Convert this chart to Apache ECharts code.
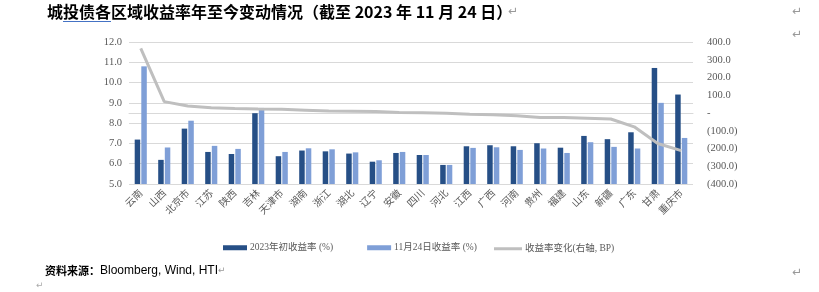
<!DOCTYPE html>
<html>
<head>
<meta charset="utf-8">
<script src="https://cdn.jsdelivr.net/npm/echarts@6/dist/echarts.min.js"></script>
<style>
html,body{margin:0;padding:0;background:#fff;}
#c{width:819px;height:292px;}
</style>
</head>
<body>
<div id="c"></div>
<script>
const categories = ['云南','山西','北京市','江苏','陕西','吉林','天津市','湖南','浙江','湖北','辽宁','安徽','四川','河北','江西','广西','河南','贵州','福建','山东','新疆','广东','甘肃','重庆市'];
const startYield = [7.19,6.19,7.73,6.58,6.48,8.49,6.37,6.65,6.61,6.50,6.10,6.53,6.43,5.94,6.86,6.91,6.86,7.01,6.79,7.37,7.21,7.55,10.72,9.41];
const nov24Yield = [10.80,6.80,8.12,6.88,6.73,8.75,6.58,6.76,6.71,6.56,6.17,6.58,6.43,5.94,6.78,6.81,6.68,6.75,6.53,7.06,6.83,6.75,9.00,7.27];
const changeBP = [364,64,40,30,25,22,21,16,11,10,9,3,1,-2,-7,-10,-16,-25,-26,-30,-34,-78,-172,-212];
const leftTicks = {min:5, max:12, interval:1};
const rightTicks = {min:-400, max:400, interval:100};
const seriesNames = ['2023年初收益率 (%)','11月24日收益率 (%)','收益率变化(右轴, BP)'];

const chart = echarts.init(document.getElementById('c'));
const serif = '"Liberation Serif","Noto Sans CJK SC",serif';
const gridColor = '#d9d9d9';
const txt = '#595959';
chart.setOption({
  animation:false,
  grid:{left:129, right:126, top:42, height:142},
  legend:[
    {left:218, top:238, itemGap:34, itemWidth:24, itemHeight:5, selectedMode:false,
     textStyle:{fontSize:9.5, color:txt, fontFamily:serif, padding:[0,0,0,-2]},
     data:[{name:seriesNames[0], icon:'rect'},{name:seriesNames[1], icon:'rect'}]},
    {left:489, top:239, itemWidth:28, itemHeight:3, selectedMode:false,
     textStyle:{fontSize:9.5, color:txt, fontFamily:serif, padding:[0,0,0,-2]},
     data:[{name:seriesNames[2], icon:'rect'}]}
  ],
  xAxis:{
    type:'category', data:categories, boundaryGap:true,
    axisLine:{lineStyle:{color:gridColor}}, axisTick:{show:false},
    axisLabel:{rotate:45, fontSize:10, color:txt, margin:7, interval:0, fontFamily:'"Noto Sans CJK SC",sans-serif'}
  },
  yAxis:[
    {type:'value', min:leftTicks.min, max:leftTicks.max, interval:leftTicks.interval,
     splitLine:{lineStyle:{color:gridColor}}, axisLine:{show:false}, axisTick:{show:false},
     axisLabel:{fontSize:10.5, color:txt, margin:7, fontFamily:serif, formatter:v=>v.toFixed(1)}},
    {type:'value', min:rightTicks.min, max:rightTicks.max, interval:rightTicks.interval,
     splitLine:{show:false}, axisLine:{show:false}, axisTick:{show:false},
     axisLabel:{fontSize:10.5, color:txt, margin:14, fontFamily:serif, align:'left',
       formatter:v=> v===0 ? '-' : (v<0 ? '('+Math.abs(v).toFixed(1)+')' : v.toFixed(1))}}
  ],
  series:[
    {name:seriesNames[0], type:'bar', data:startYield, barWidth:5.5, barGap:'20%', itemStyle:{color:'#264f86'}},
    {name:seriesNames[1], type:'bar', data:nov24Yield, barWidth:5.5, itemStyle:{color:'#7f9fd7'}},
    {name:seriesNames[2], type:'line', yAxisIndex:1, data:changeBP, symbol:'none', showSymbol:false,
     lineStyle:{color:'#bfbfbf', width:3}, itemStyle:{color:'#bfbfbf'}}
  ],
  graphic:[
    {type:'text', left:47, top:4, style:{text:'城投债各区域收益率年至今变动情况（截至 2023 年 11 月 24 日）', fontSize:16, fontWeight:'bold', fill:'#000', fontFamily:'"Noto Sans CJK SC",sans-serif'}},
    {type:'line', shape:{x1:63,y1:21.5,x2:111,y2:21.5}, style:{stroke:'#4472c4', lineWidth:1}},
    {type:'text', left:508, top:6, style:{text:'↵', fontSize:12, fill:'#999', fontFamily:'"DejaVu Sans"'}},
    {type:'text', left:792, top:6, style:{text:'↵', fontSize:12, fill:'#999', fontFamily:'"DejaVu Sans"'}},
    {type:'text', left:792, top:29, style:{text:'↵', fontSize:12, fill:'#999', fontFamily:'"DejaVu Sans"'}},
    {type:'text', left:792, top:267, style:{text:'↵', fontSize:12, fill:'#999', fontFamily:'"DejaVu Sans"'}},
    {type:'text', left:45, top:265, style:{rich:{
        a:{fontSize:11, fontWeight:'bold', fill:'#000', fontFamily:'"Noto Sans CJK SC",sans-serif'},
        b:{fontSize:12, fill:'#000', fontFamily:'"Liberation Sans",sans-serif'},
        c:{fontSize:9, fill:'#999', fontFamily:'"DejaVu Sans"'}
      }, text:'{a|资料来源：}{b|Bloomberg, Wind, HTI}{c|↵}'}},
    {type:'text', left:36, top:281, style:{text:'↵', fontSize:9, fill:'#aaa', fontFamily:'"DejaVu Sans"'}}
  ]
});
</script>
</body>
</html>
